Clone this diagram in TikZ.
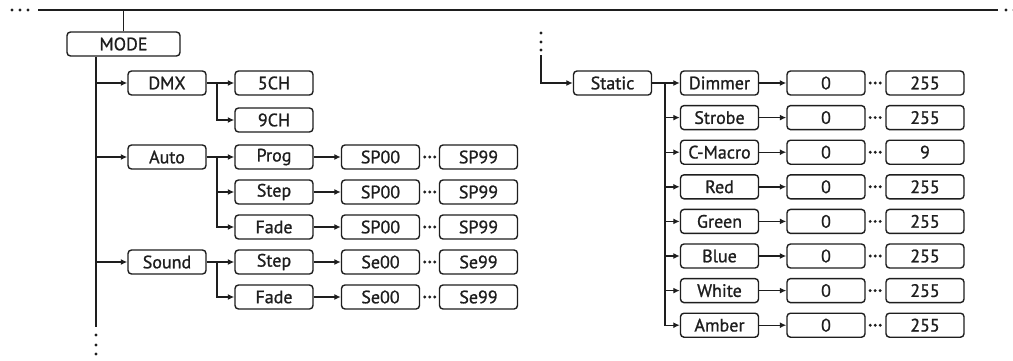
\documentclass[tikz,border=0pt]{standalone}
\usepackage{fontspec}
\setmainfont{PT Sans}[FakeBold=1]
\usetikzlibrary{arrows.meta,calc}
\definecolor{ink}{HTML}{1E1E1E}
\begin{document}
\begin{tikzpicture}[x=1pt,y=-1pt,
  box/.style={draw=ink,line width=1.4pt,rounded corners=3.5pt,minimum width=78pt,minimum height=24pt,inner sep=0pt,font=\fontsize{18}{20}\selectfont,text=ink,fill=white},
  wide/.style={box,minimum width=113pt},
  ln/.style={draw=ink,line width=1.4pt},
  arr/.style={ln,-{Latex[length=6.5pt,width=6pt]}},
  pt/.style={fill=ink}]
\useasboundingbox[fill=white] (0,0) rectangle (1013,360);

% top line
\coordinate (tl) at (38,10);
\coordinate (trr) at (998,10);
\draw[ln] (tl) -- (trr);
\foreach \x in {12,20,28} \fill[pt] (\x,10) circle (1.7pt);
\foreach \x in {1006,1014} \fill[pt] (\x,10) circle (1.7pt);

% MODE
\node[wide] (MODE) at (123.5,44) {MODE};
\draw[ln] (MODE.north) -- (MODE.north |- tl);

% trunk
\coordinate (tk) at (96,0);
\coordinate (tkend) at (96,327);
\draw[ln] (MODE.south -| tk) -- (tkend);
\foreach \y in {335,345,354} \fill[pt] (96,\y) circle (1.7pt);

% level 1
\node[box] (DMX) at (167,83) {DMX};
\node[box] (Auto) at (167,157) {Auto};
\node[box] (Sound) at (167,262) {Sound};
\foreach \n in {DMX,Auto,Sound} \draw[arr] (\n -| tk) -- (\n);

% level 2
\coordinate (jl) at (217,0);
\node[box] (C5) at (274,83) {5CH};
\node[box] (C9) at (274,120) {9CH};
\node[box] (Prog) at (274,157) {Prog};
\node[box] (StepA) at (274,192) {Step};
\node[box] (FadeA) at (274,227) {Fade};
\node[box] (StepS) at (274,262) {Step};
\node[box] (FadeS) at (274,297) {Fade};
\draw[arr] (DMX) -- (C5);
\draw[arr] (DMX.east -| jl) |- (C9);
\draw[arr] (Auto) -- (Prog);
\draw[arr] (Auto.east -| jl) |- (StepA);
\draw[arr] (Auto.east -| jl) |- (FadeA);
\draw[arr] (Sound) -- (StepS);
\draw[arr] (Sound.east -| jl) |- (FadeS);

% level 3
\foreach \n/\y/\a/\b in {Prog/157/SP00/SP99, StepA/192/SP00/SP99, FadeA/227/SP00/SP99, StepS/262/Se00/Se99, FadeS/297/Se00/Se99}{
  \node[box] (\n lo) at (380.5,\y) {\a};
  \node[box] (\n hi) at (478.5,\y) {\b};
  \draw[arr] (\n) -- (\n lo);
  \foreach \d in {4.5,9.5,14.5} \fill[pt] ($(\n lo.east)+(\d,0)$) circle (1.6pt);
}

% right part
\coordinate (rv) at (541,55);
\foreach \y in {33,42,50} \fill[pt] (541,\y) circle (1.7pt);
\node[box] (Static) at (612.5,83) {Static};
\draw[arr] (rv) |- (Static);
\coordinate (jr) at (665,0);
\foreach \i/\n/\v in {0/Dimmer/255,1/Strobe/255,2/C-Macro/9,3/Red/255,4/Green/255,5/Blue/255,6/White/255,7/Amber/255}{
  \pgfmathsetmacro{\yy}{83+34.6*\i}
  \node[box] (R\i) at (719.5,\yy) {\n};
  \node[box] (R\i lo) at (826,\yy) {0};
  \node[box] (R\i hi) at (925,\yy) {\v};
  \draw[arr] (Static.east -| jr) |- (R\i);
  \draw[arr] (R\i) -- (R\i lo);
  \foreach \d in {4.5,9.5,14.5} \fill[pt] ($(R\i lo.east)+(\d,0)$) circle (1.6pt);
}
\draw[ln] (Static) -- (Static.east -| jr);
\end{tikzpicture}
\end{document}
